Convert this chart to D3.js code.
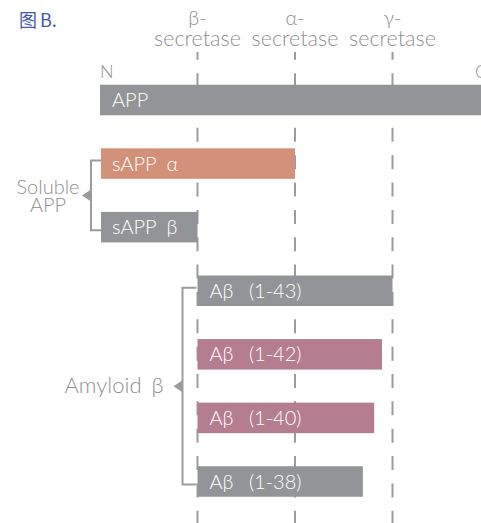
<!DOCTYPE html>
<html>
<head>
<meta charset="utf-8">
<script src="https://cdn.jsdelivr.net/npm/d3@7"></script>
<style>
  html, body { margin: 0; padding: 0; background: #fff; }
  svg { display: block; }
</style>
</head>
<body>
<svg id="chart" width="481" height="523"></svg>
<script>
// ---- data (schematic positions along APP, arbitrary units 0..100) ----
const fragments = ["APP", "sAPP α", "sAPP β", "Aβ (1-43)", "Aβ (1-42)", "Aβ (1-40)", "Aβ (1-38)"];
const fragStart = [0, 0, 0, 25, 25, 25, 25];
const fragEnd   = [100, 50, 25, 75, 72.3, 70.3, 67.4];
const fragColor = ["#939497", "#d3917a", "#939497", "#939497", "#b47d90", "#b47d90", "#939497"];
const enzymes   = ["β-", "α-", "γ-"];
const enzymePos = [25, 50, 75];
const groups    = [["Soluble", "APP"], ["Amyloid β"]];
const groupFrom = ["sAPP α", "Aβ (1-43)"];
const groupTo   = ["sAPP β", "Aβ (1-38)"];

const svg = d3.select("#chart");
const W = 481, H = 523;
const gray = "#8f8f8f";
const font = "Lato, 'Open Sans', sans-serif";

const x = d3.scaleLinear().domain([0, 100]).range([100, 490]);
const y = d3.scalePoint().domain(fragments).range([100, 481.5]);
const barH = 30.5;

// title
const title = svg.append("text").attr("y", 27)
  .attr("font-family", "'Noto Sans CJK SC', sans-serif")
  .attr("font-size", 18).attr("fill", "#4456b3");
title.append("tspan").attr("x", 19).text("图");
title.append("tspan").attr("x", 40).text("B.");

// dashed cleavage lines
svg.append("g").selectAll("line").data(enzymePos).join("line")
  .attr("x1", d => x(d)).attr("x2", d => x(d))
  .attr("y1", 52).attr("y2", H)
  .attr("stroke", "#9b9b9b").attr("stroke-width", 2)
  .attr("stroke-dasharray", "14 13.35").attr("stroke-dashoffset", 6.2);

// enzyme labels
const el = svg.append("g").selectAll("g").data(enzymes).join("g");
el.append("text")
  .attr("x", (d, i) => x(enzymePos[i])).attr("y", 25)
  .attr("text-anchor", "middle").attr("font-family", font)
  .attr("font-size", 20).attr("font-weight", 300).attr("fill", gray)
  .text(d => d);
el.append("text")
  .attr("x", (d, i) => x(enzymePos[i])).attr("y", 46)
  .attr("text-anchor", "middle").attr("font-family", font)
  .attr("font-size", 21.5).attr("font-weight", 300).attr("fill", gray)
  .text("secretase");

// N / C labels
svg.append("text").attr("x", x(0)).attr("y", 78)
  .attr("font-family", font).attr("font-size", 18).attr("font-weight", 300)
  .attr("fill", gray).text("N");
svg.append("text").attr("x", 475).attr("y", 78)
  .attr("font-family", font).attr("font-size", 18).attr("font-weight", 300)
  .attr("fill", gray).text("C");

// bars
const bars = svg.append("g").selectAll("g").data(fragments).join("g");
bars.append("rect")
  .attr("x", (d, i) => x(fragStart[i]) + (i === 1 || i === 2 ? 1 : 0))
  .attr("y", d => y(d) - barH / 2)
  .attr("width", (d, i) => x(fragEnd[i]) - x(fragStart[i]) - (i === 1 || i === 2 ? 1 : 0))
  .attr("height", barH)
  .attr("fill", (d, i) => fragColor[i]);
bars.append("text")
  .attr("x", (d, i) => x(fragStart[i]) + 12)
  .attr("y", d => y(d) + 7)
  .attr("font-family", font).attr("font-size", 20).attr("font-weight", 300)
  .attr("fill", "#fff").attr("word-spacing", (d, i) => i >= 3 ? 10 : 5)
  .text(d => d);

// group brackets
const bracketGap = [9, 15];
const tickGap = [0, 2];
groups.forEach((lines, gi) => {
  const y0 = y(groupFrom[gi]) - 3, y1 = y(groupTo[gi]) + 3;
  const start = x(fragStart[fragments.indexOf(groupFrom[gi])]);
  const bx = start - bracketGap[gi];
  const tickEnd = start + 1 - tickGap[gi];
  const ym = (y0 + y1) / 2;
  svg.append("path")
    .attr("d", `M${tickEnd},${y0}H${bx}V${y1}H${tickEnd}`)
    .attr("fill", "none").attr("stroke", "#9b9b9b").attr("stroke-width", 2);
  svg.append("path")
    .attr("d", `M${bx - 9},${ym}L${bx},${ym - 6}V${ym + 6}Z`)
    .attr("fill", "#9b9b9b");
  const t = svg.append("text")
    .attr("font-family", font).attr("font-weight", 300)
    .attr("fill", gray);
  if (lines.length === 2) {
    t.attr("text-anchor", "middle").attr("font-size", 20);
    lines.forEach((s, k) => t.append("tspan").attr("x", 48)
      .attr("y", ym + (k === 0 ? -1 : 17)).text(s));
  } else {
    t.attr("text-anchor", "end").attr("font-size", 22).attr("word-spacing", 4)
      .attr("x", bx - 19).attr("y", ym + 7).text(lines[0]);
  }
});
</script>
</body>
</html>
